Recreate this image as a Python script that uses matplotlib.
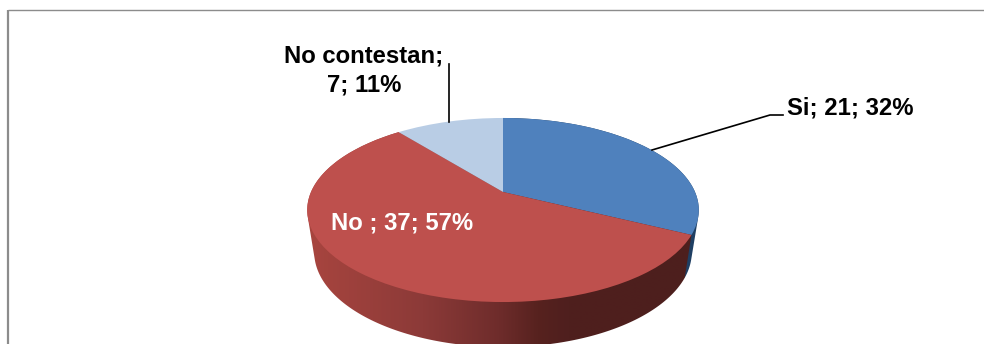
import numpy as np
import matplotlib
matplotlib.use("Agg")
import matplotlib.pyplot as plt
from matplotlib.colors import LinearSegmentedColormap
from matplotlib.patches import PathPatch
from matplotlib.path import Path
from matplotlib.transforms import Transform

categories = ["Si", "No ", "No contestan"]
values = [21, 37, 7]
percents = [32, 57, 11]
colors = ["#4F81BD", "#BE504D", "#B9CDE5"]

W, H = 984, 344
CX, CY, BX, AY, K = 503.0, 192.0, 192.0, 88.5, 0.1957
# top rim ellipse and the (slightly smaller) bottom rim ellipse of the pie's wall
TOP_CY, BOT_CY = 210.0, 252.0
BOT_SX, BOT_SY = 189.0 / 196.0, 95.0 / 92.0


def project(uv):
    uv = np.asarray(uv, float).reshape(-1, 2)
    w = 1 + K * uv[:, 1]
    return np.column_stack([CX + BX * uv[:, 0] / w, CY - AY * uv[:, 1] / w])


class Perspective(Transform):
    input_dims = output_dims = 2
    is_affine = False
    has_inverse = False

    def transform_non_affine(self, values):
        return project(values)


fig = plt.figure(figsize=(W / 100, H / 100), dpi=100, facecolor="white")
ax = fig.add_axes([0, 0, 1, 1])

wedges, _ = ax.pie(values, colors=colors, startangle=90, counterclock=False,
                   radius=1, frame=True)
ax.set_aspect("auto")
ax.set_xlim(0, W)
ax.set_ylim(H, 0)
ax.axis("off")
persp = Perspective() + ax.transData
for w in wedges:
    w.set_transform(persp)
    w.set_clip_on(False)
    w.set_zorder(5)

# angle boundaries (clockwise from top) follow the data
fracs = np.cumsum([0] + values) / sum(values)


def hull(points):
    pts = sorted(map(tuple, points))

    def half(seq):
        out = []
        for p in seq:
            while len(out) > 1 and ((out[-1][0] - out[-2][0]) * (p[1] - out[-2][1])
                                    - (out[-1][1] - out[-2][1]) * (p[0] - out[-2][0])) <= 0:
                out.pop()
            out.append(p)
        return out[:-1]

    return half(pts) + half(pts[::-1])


def wall_path(f0, f1):
    t = np.linspace(f0, f1, 240) * 2 * np.pi
    top = project(np.column_stack([np.sin(t), np.cos(t)]))
    bot = np.column_stack([CX + (top[:, 0] - CX) * BOT_SX,
                           BOT_CY + (top[:, 1] - TOP_CY) * BOT_SY])
    h = np.array(hull(np.vstack([top, bot])))
    return Path(np.vstack([h, h[:1]]), closed=True)


red_map = LinearSegmentedColormap.from_list(
    "wall", [(0.0, "#A8453F"), (0.3, "#8C3A38"), (0.5, "#6E2C2B"),
             (0.6, "#57221F"), (0.68, "#4F1F1E"), (1.0, "#4D1F1D")])
grad = np.linspace(0, 1, 384).reshape(1, -1)

# Narrow dark wall of the blue slice
ax.add_patch(PathPatch(wall_path(fracs[0], fracs[1]), fc="#1F3F63", ec="none", zorder=1))

# Front wall of the red slice, shaded left to right
p_red = PathPatch(wall_path(fracs[1], fracs[2]), fc="none", ec="none")
ax.add_patch(p_red)
im = ax.imshow(grad, cmap=red_map, extent=(307, 692, H + 5, 120), aspect="auto",
               zorder=2, interpolation="bilinear")
ax.set_xlim(0, W)
ax.set_ylim(H, 0)
im.set_clip_path(p_red)

# Chart frame: left and top edges only are visible
ax.plot([8, 8], [10, H], color="#8C8C8C", lw=1.6, zorder=1, solid_capstyle="butt")
ax.plot([8, W], [10, 10], color="#8C8C8C", lw=1.0, zorder=1, solid_capstyle="butt")

font = dict(family=["Liberation Sans", "DejaVu Sans"], fontweight="bold", fontsize=17.2)


def label(i):
    return f"{categories[i]}; {values[i]}; {percents[i]}%"


ax.text(787, 108, label(0), color="black", ha="left", va="center", zorder=7, **font)
ax.text(331, 223, label(1), color="white", ha="left", va="center", zorder=7, **font)
ax.text(364, 56, f"{categories[2]};", color="black", ha="center", va="center", zorder=7, **font)
ax.text(364, 85, f"{values[2]}; {percents[2]}%", color="black", ha="center", va="center", zorder=7, **font)

# Leader lines
ax.plot([652, 770, 783], [150, 115, 115], color="black", lw=1.2, zorder=6)
ax.plot([449, 449], [64, 122], color="black", lw=1.2, zorder=6)

fig.savefig("out.png", dpi=100)
